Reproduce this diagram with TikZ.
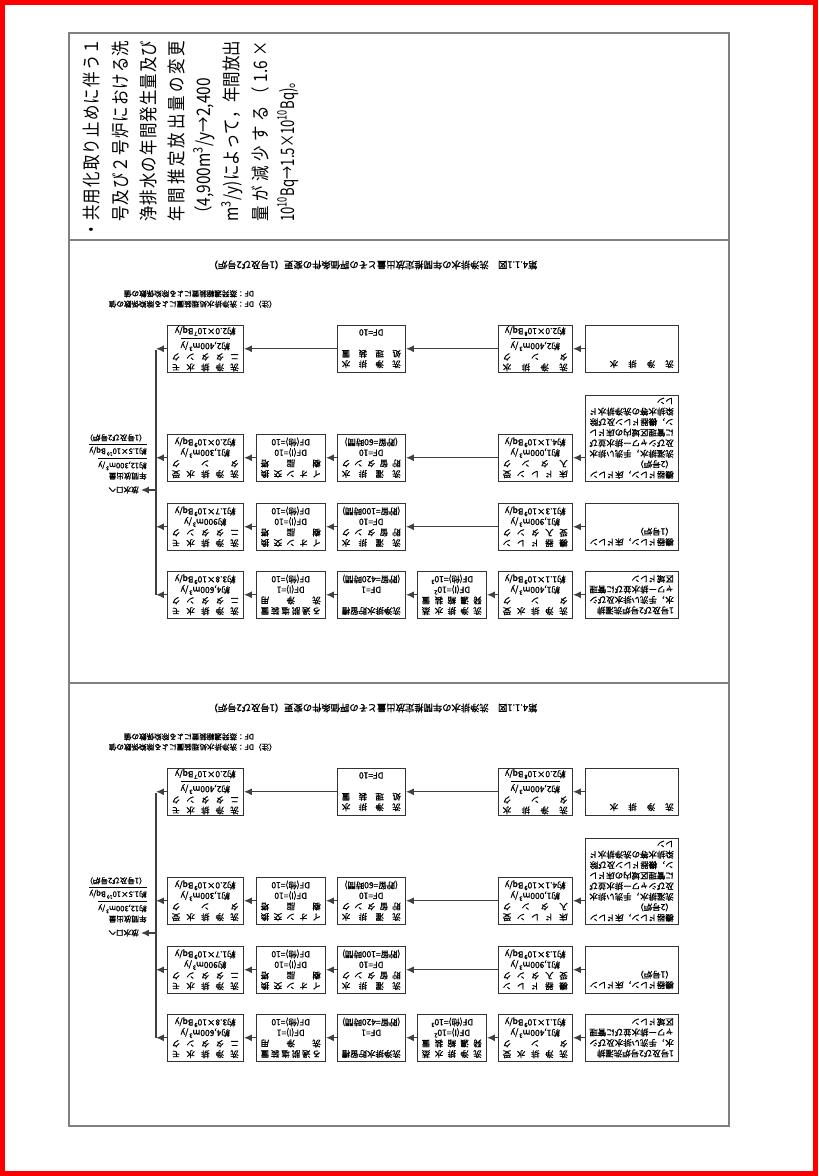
\documentclass[tikz,border=0pt]{standalone}
\usepackage{fontspec}
\setmainfont{Noto Sans CJK JP}
\newfontfamily\boxjp{Noto Sans CJK JP}[FakeBold=1.2]
\usetikzlibrary{arrows.meta}

% spread the items of #2 evenly over a width #1
\makeatletter
\def\spr@a#1#2\@nil{#1\ifx\relax#2\relax\else\hfil\spr@a#2\@nil\fi}
\newcommand\spreadto[2]{\hbox to #1{\spr@a#2\@nil}}
\makeatother
\newcommand\txts[1]{\noindent\spreadto{\hsize}{#1}}
\newcommand\txtl[1]{\noindent\hbox to\hsize{#1\hfil}}
\newcommand\txtc[1]{\noindent\hbox to\hsize{\hfil#1\hfil}}
\newcommand\boxfont{\boxjp\fontsize{4.8}{6}\selectfont}
\newcommand\notefont{\boxjp\fontsize{4.3}{5.9}\selectfont}
\newcommand\titlefont{\boxjp\fontsize{5.3}{6}\selectfont}
\newcommand\topfont{\fontsize{8.8}{10}\selectfont}

\tikzset{
  frameline/.style={draw=black!50, line width=0.04cm},
  flowbox/.style={draw=black!80, line width=0.85pt, anchor=north west, inner xsep=0.09cm,
    inner ysep=0pt, minimum height=0.94cm, align=left, font=\boxfont},
  boxE/.style={flowbox, text width=1.68cm},
  boxD/.style={flowbox, text width=1.30cm},
  boxX/.style={flowbox, text width=1.20cm},
  boxC/.style={flowbox, text width=1.18cm},
  boxB/.style={flowbox, text width=1.20cm},
  boxA/.style={flowbox, text width=1.34cm},
  flowarrow/.style={draw=black!75, line width=0.7pt, ->},
  busline/.style={draw=black!75, line width=0.7pt},
  toptext/.style={rotate=90, yscale=1.2, anchor=west, inner sep=0pt, font=\topfont},
  smalltext/.style={font=\notefont, inner sep=0pt, align=left},
}

% one flow sheet, drawn upright; placed upside down below
\newcommand\washflow{%
  % row 1
  \node[boxE] (e1) at (50,-64) {\txtl{1号及び2号炉洗濯排}\\\txtl{水，手洗い排水及びシ}\\\txtl{ャワー排水並びに管理}\\\txtl{区域ドレン}};
  \node[boxD] (d1) at (156,-64) {\txts{洗浄排水受}\\\txts{タンク}\\\txtc{約1,400m\textsuperscript{3}/y}\\\txtc{約1.1×10\textsuperscript{9}Bq/y}};
  \node[boxX] (x1) at (242,-64) {\txts{洗浄排水蒸}\\\txts{発濃縮装置}\\\txtc{DF(I)=10\textsuperscript{2}}\\\txtc{DF(他)=10\textsuperscript{3}}};
  \node[boxC] (c1) at (323,-64) {\txtl{洗浄排水貯留槽}\\\txtl{}\\\txtc{DF=1}\\\txtc{(貯留=420時間)}};
  \node[boxB] (b1) at (403,-64) {\txts{ろ過脱塩装置}\\\txts{洗浄用}\\\txtc{DF(I)=1}\\\txtc{DF(他)=10}};
  \node[boxA] (a1) at (485,-64) {\txts{洗浄排水モ}\\\txts{ニタタンク}\\\txtc{約4,600m\textsuperscript{3}/y}\\\txtc{約3.8×10\textsuperscript{9}Bq/y}};
  % row 2
  \node[boxE] (e2) at (50,-132) {\txtl{機器ドレン，床ドレン}\\\txtl{（1号炉）}\\\txtl{}\\\txtl{}};
  \node[boxD] (d2) at (156,-132) {\txts{機器ドレン}\\\txts{受入タンク}\\\txtc{約1,900m\textsuperscript{3}/y}\\\txtc{約1.3×10\textsuperscript{9}Bq/y}};
  \node[boxC] (c2) at (323,-132) {\txts{洗濯排水}\\\txts{貯留タンク}\\\txtc{DF=10}\\\txtc{(貯留=100時間)}};
  \node[boxB] (b2) at (403,-132) {\txts{イオン交換}\\\txts{樹脂塔}\\\txtc{DF(I)=10}\\\txtc{DF(他)=10}};
  \node[boxA] (a2) at (485,-132) {\txts{洗浄排水モ}\\\txts{ニタタンク}\\\txtc{約900m\textsuperscript{3}/y}\\\txtc{約1.7×10\textsuperscript{9}Bq/y}};
  % row 3
  \node[boxE, minimum height=1.72cm] (e3) at (50,-201) {\txtl{機器ドレン，床ドレン}\\\txtl{（2号炉）}\\\txtl{洗濯排水，手洗い排水}\\\txtl{及びシャワー排水並び}\\\txtl{に管理区域内の床ドレ}\\\txtl{ン，機器ドレン及び除}\\\txtl{染排水等の洗浄排水ド}\\\txtl{レン}};
  \node[boxD] (d3) at (156,-201) {\txts{床ドレン受}\\\txts{入タンク}\\\txtc{約1,000m\textsuperscript{3}/y}\\\txtc{約4.1×10\textsuperscript{9}Bq/y}};
  \node[boxC] (c3) at (323,-201) {\txts{洗濯排水}\\\txts{貯留タンク}\\\txtc{DF=10}\\\txtc{(貯留=60時間)}};
  \node[boxB] (b3) at (403,-201) {\txts{イオン交換}\\\txts{樹脂塔}\\\txtc{DF(I)=10}\\\txtc{DF(他)=10}};
  \node[boxA] (a3) at (485,-201) {\txts{洗浄排水受}\\\txts{タンク}\\\txtc{約1,300m\textsuperscript{3}/y}\\\txtc{約2.0×10\textsuperscript{9}Bq/y}};
  % row 4
  \node[boxE] (e4) at (50,-310) {\txtl{洗\hspace{1.2em}浄\hspace{1.2em}排\hspace{1.2em}水}\\\txtl{}\\\txtl{}\\\txtl{}};
  \node[boxD] (d4) at (156,-310) {\txts{洗浄排水}\\\txts{タンク}\\\txtc{\underline{約2,400m\textsuperscript{3}/y}}\\\txtc{約2.0×10\textsuperscript{8}Bq/y}};
  \node[boxC] (c4) at (323,-310) {\txts{洗浄排水}\\\txts{処理装置}\\\txtl{}\\\txtc{DF=10}};
  \node[boxA] (a4) at (485,-310) {\txts{洗浄排水モ}\\\txts{ニタタンク}\\\txtc{\underline{約2,400m\textsuperscript{3}/y}}\\\txtc{約2.0×10\textsuperscript{7}Bq/y}};
  % arrows
  \draw[flowarrow] (e1.east) -- (d1.west);
  \draw[flowarrow] (d1.east) -- (x1.west);
  \draw[flowarrow] (x1.east) -- (c1.west);
  \draw[flowarrow] (c1.east) -- (b1.west);
  \draw[flowarrow] (b1.east) -- (a1.west);
  \draw[flowarrow] (e2.east) -- (d2.west);
  \draw[flowarrow] (d2.east) -- (c2.west);
  \draw[flowarrow] (c2.east) -- (b2.west);
  \draw[flowarrow] (b2.east) -- (a2.west);
  \draw[flowarrow] (e3.east |- d3.west) -- (d3.west);
  \draw[flowarrow] (d3.east) -- (c3.west);
  \draw[flowarrow] (c3.east) -- (b3.west);
  \draw[flowarrow] (b3.east) -- (a3.west);
  \draw[flowarrow] (e4.east) -- (d4.west);
  \draw[flowarrow] (d4.east) -- (c4.west);
  \draw[flowarrow] (c4.east) -- (a4.west);
  % collecting line to the outlet
  \coordinate (bustop) at (573,-88);
  \coordinate (busbot) at (573,-333);
  \coordinate (busout) at (573,-193);
  \coordinate (outend) at (588,-193);
  \draw[busline] (bustop) -- (busbot);
  \foreach \row in {1,...,4} \draw[flowarrow] (a\row.east) -- (a\row.east -| bustop);
  \draw[flowarrow] (busout) -- (outend);
  \node[smalltext, anchor=west] (outlet) at (590,-193) {放水口へ};
  \node[smalltext, anchor=north west] (annual) at (582,-203) {年間放出量\\\underline{約12,300m\textsuperscript{3}/y}\\\underline{約1.5×10\textsuperscript{10}Bq/y}\\（1号及び2号炉）};
  \node[smalltext, anchor=west] (notes) at (452,-384) {（注）DF：洗浄排水処理装置による除染係数の値\\\phantom{（注）}DF：蒸発濃縮装置による除染係数の値};
  \node[font=\titlefont, inner sep=0pt] (title) at (356,-418) {第4.1.1図\quad 洗浄排水の年間推定放出量とその評価条件の変更（1号及び2号炉）};
}

\begin{document}
\begin{tikzpicture}[x=0.02cm, y=0.02cm, >={Latex[length=4.5pt,width=4pt]}]
  \useasboundingbox (0,0) rectangle (818,-1176);
  \draw[red, line width=0.1cm] (2.5,-2.5) rectangle (815.5,-1173.5);
  % table frame
  \draw[frameline] (69,-33) rectangle (729,-1126);
  \draw[frameline] (69,-240) -- (729,-240);
  \draw[frameline] (69,-683) -- (729,-683);
  % upper cell, set sideways
  \node[toptext] (l1) at (92,-238) {\spreadto{3.98cm}{・共用化取り止めに伴う１}};
  \node[toptext] (l2) at (120,-222) {\spreadto{3.62cm}{号及び２号炉における洗}};
  \node[toptext] (l3) at (148,-222) {\spreadto{3.62cm}{浄排水の年間発生量及び}};
  \node[toptext] (l4) at (176,-222) {\spreadto{3.62cm}{年間推定放出量の変更}};
  \node[toptext] (l5) at (204,-222) {（4,900m\textsuperscript{3}/y→2,400};
  \node[toptext] (l6) at (232,-222) {\spreadto{3.62cm}{{m\textsuperscript{3}/y)}によって，年間放出}};
  \node[toptext] (l7) at (260,-222) {\spreadto{3.62cm}{量が減少する（{1.6}×}};
  \node[toptext, xscale=0.85] (l8) at (288,-222) {10\textsuperscript{10}Bq→1.5×10\textsuperscript{10}Bq)。};
  % the two flow sheets, printed upside down
  \begin{scope}[shift={(729,-683)}, rotate=180, transform shape, name prefix=up-]
    \washflow
  \end{scope}
  \begin{scope}[shift={(729,-1126)}, rotate=180, transform shape, name prefix=lo-]
    \washflow
  \end{scope}
\end{tikzpicture}
\end{document}
